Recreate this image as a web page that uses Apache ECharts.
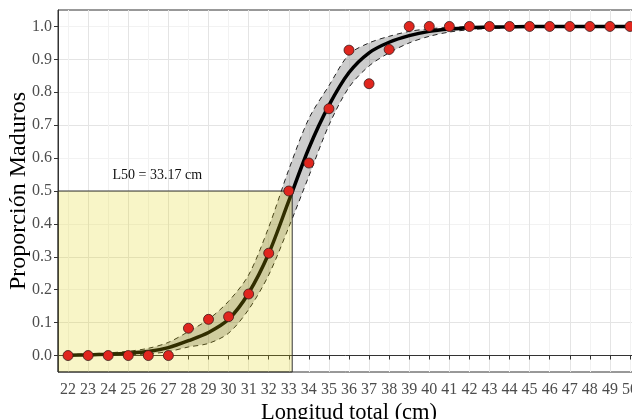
<!DOCTYPE html>
<html>
<head>
<meta charset="utf-8">
<script src="https://cdn.jsdelivr.net/npm/echarts@6/dist/echarts.min.js"></script>
<style>
  html, body { margin: 0; padding: 0; background: #fff; }
  #chart { width: 632px; height: 419px; }
</style>
</head>
<body>
<div id="chart"></div>
<script>
  // datos observados (longitud total, proporcion de maduros)
  var lengths = [22, 23, 24, 25, 26, 27, 28, 29, 30, 31, 32, 33, 34, 35, 36, 37, 38, 39, 40, 41, 42, 43, 44, 45, 46, 47, 48, 49, 50]
  var observed = [0, 0, 0, 0, 0, 0, 0.083, 0.11, 0.118, 0.187, 0.311, 0.5, 0.585, 0.75, 0.928, 0.826, 0.93, 1, 1, 1, 1, 1, 1, 1, 1, 1, 1, 1, 1]
  // curva ajustada e intervalo de confianza
  var fitted = [0.001, 0.002, 0.004, 0.007, 0.012, 0.024, 0.045, 0.07, 0.11, 0.19, 0.31, 0.47, 0.63, 0.76, 0.86, 0.92, 0.952, 0.972, 0.985, 0.992, 0.996, 0.998, 0.999, 1, 1, 1, 1, 1, 1]
  var lowerCI = [0, 0, 0.001, 0.002, 0.005, 0.012, 0.026, 0.037, 0.068, 0.14, 0.245, 0.39, 0.545, 0.70, 0.815, 0.88, 0.92, 0.95, 0.97, 0.983, 0.99, 0.994, 0.996, 0.998, 0.999, 0.999, 0.999, 0.999, 0.999]
  var upperCI = [0.003, 0.005, 0.008, 0.013, 0.022, 0.04, 0.073, 0.11, 0.165, 0.245, 0.39, 0.565, 0.72, 0.82, 0.915, 0.95, 0.97, 0.985, 0.993, 0.997, 0.999, 1, 1, 1, 1, 1, 1, 1, 1]
  var L50 = 33.17
  var P50 = 0.5
  var xTicks = lengths
  var yTicks = [0, 0.1, 0.2, 0.3, 0.4, 0.5, 0.6, 0.7, 0.8, 0.9, 1.0]

  var xMin = 21.5, xMax = 50.5, yMin = -0.05, yMax = 1.05
  var labelPos = [26.45, 0.547]
  var font = 'Liberation Serif'
  var smoothK = 0.3

  var pairs = function (xs, ys) {
    return xs.map(function (x, i) { return [x, ys[i]] })
  }

  var myChart = echarts.init(document.getElementById('chart'))

  var option = {
    animation: false,
    backgroundColor: '#fff',
    grid: {
      left: 58,
      top: 10,
      width: 582,
      height: 362,
      outerBoundsMode: 'none',
      containLabel: false,
      show: true,
      backgroundColor: '#fff',
      borderColor: '#333',
      borderWidth: 1
    },
    xAxis: {
      type: 'value',
      min: xMin,
      max: xMax,
      interval: 0.5,
      name: 'Longitud total (cm)',
      nameLocation: 'middle',
      nameGap: 30,
      nameMoveOverlap: false,
      nameTextStyle: { fontFamily: font, fontSize: 22.5, color: '#000' },
      axisLine: { show: true, lineStyle: { color: '#333', width: 1 } },
      axisTick: { show: true, length: 4, customValues: xTicks, lineStyle: { color: '#333' } },
      axisLabel: {
        customValues: xTicks,
        margin: 10,
        fontFamily: font,
        fontSize: 16,
        color: '#4d4d4d'
      },
      splitLine: { show: true, lineStyle: { color: ['#f2f2f2', '#e4e4e4'], width: 1 } }
    },
    yAxis: {
      type: 'value',
      min: yMin,
      max: yMax,
      interval: 0.05,
      name: 'Proporción Maduros',
      nameLocation: 'middle',
      nameGap: 27,
      nameMoveOverlap: false,
      nameTextStyle: { fontFamily: font, fontSize: 24, color: '#000' },
      axisLine: { show: true, lineStyle: { color: '#333', width: 1 } },
      axisTick: { show: true, length: 4, customValues: yTicks, lineStyle: { color: '#333' } },
      axisLabel: {
        customValues: yTicks,
        margin: 6,
        fontFamily: font,
        fontSize: 16,
        color: '#4d4d4d',
        formatter: function (v) { return v.toFixed(1) }
      },
      splitLine: { show: true, lineStyle: { color: ['#f2f2f2', '#e4e4e4'], width: 1 } }
    },
    series: [
      {
        // banda de confianza
        name: 'ci',
        type: 'custom',
        silent: true,
        z: 1,
        data: [[0]],
        renderItem: function (params, api) {
          var up = lengths.map(function (x, i) { return api.coord([x, upperCI[i]]) })
          var lo = lengths.map(function (x, i) { return api.coord([x, lowerCI[i]]) })
          return {
            type: 'group',
            children: [
              {
                type: 'polygon',
                shape: { points: up.concat(lo.slice().reverse()), smooth: smoothK },
                style: { fill: 'rgba(0,0,0,0.2)' }
              },
              {
                type: 'polyline',
                shape: { points: up, smooth: smoothK },
                style: { fill: null, stroke: '#222', lineWidth: 1, lineDash: [5, 4] }
              },
              {
                type: 'polyline',
                shape: { points: lo, smooth: smoothK },
                style: { fill: null, stroke: '#222', lineWidth: 1, lineDash: [5, 4] }
              }
            ]
          }
        }
      },
      {
        name: 'curve',
        type: 'line',
        smooth: smoothK,
        symbol: 'none',
        silent: true,
        lineStyle: { color: '#000', width: 3.5 },
        z: 3,
        data: pairs(lengths, fitted)
      },
      {
        name: 'L50',
        type: 'custom',
        silent: true,
        z: 4,
        data: [[yMin, P50, L50]],
        renderItem: function (params, api) {
          var p0 = api.coord([xMin, api.value(0)])
          var p1 = api.coord([api.value(2), api.value(1)])
          var lp = api.coord(labelPos)
          return {
            type: 'group',
            children: [
              {
                type: 'rect',
                shape: { x: p0[0], y: p1[1], width: p1[0] - p0[0], height: p0[1] - p1[1] },
                style: { fill: 'rgba(222,210,0,0.22)', stroke: '#333', lineWidth: 1 }
              },
              {
                type: 'text',
                x: lp[0],
                y: lp[1],
                style: {
                  text: 'L50 = ' + L50.toFixed(2) + ' cm',
                  fontFamily: font,
                  fontSize: 14,
                  fill: '#111',
                  align: 'center',
                  verticalAlign: 'middle'
                }
              }
            ]
          }
        }
      },
      {
        name: 'observed',
        type: 'scatter',
        symbolSize: 10,
        z: 5,
        itemStyle: { color: '#e0261e', borderColor: '#3a1a1a', borderWidth: 0.8, opacity: 1 },
        data: pairs(lengths, observed)
      }
    ]
  }

  myChart.setOption(option)
</script>
</body>
</html>
